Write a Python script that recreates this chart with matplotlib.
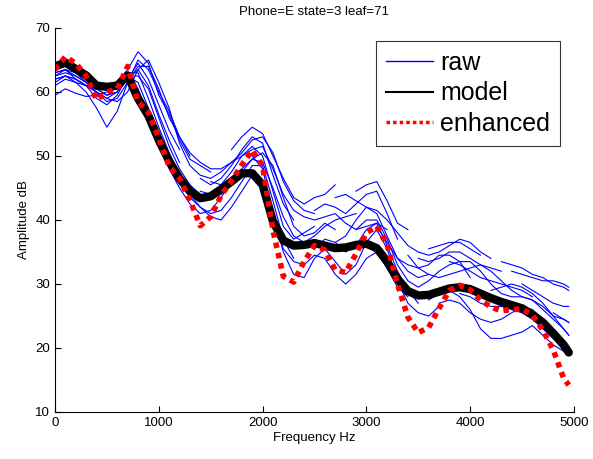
import numpy as np
import matplotlib.pyplot as plt
from matplotlib.lines import Line2D

nan = np.nan

# frequency grid [Hz]
freq = list(range(0, 5000, 100)) + [4950]

model = [64.0, 64.6, 63.6, 62.6, 61.0, 60.8, 61.0, 62.6, 59.0, 56.3,
         52.5, 49.2, 46.5, 44.5, 43.4, 43.7, 44.8, 46.0, 47.3, 47.3,
         45.5, 39.8, 36.8, 36.0, 36.1, 36.4, 36.0, 35.6, 35.7, 36.1,
         36.3, 35.6, 33.5, 30.8, 28.9, 28.2, 28.3, 28.8, 29.3, 29.5,
         29.2, 28.5, 27.8, 27.2, 26.7, 26.2, 25.2, 24.0, 22.3, 20.5, 19.3]

enhanced = [63.5, 65.5, 64.5, 62.5, 58.8, 60.0, 60.5, 64.0, 58.5, 56.8,
            52.8, 48.4, 46.5, 43.1, 39.1, 40.5, 43.8, 46.1, 48.6, 50.9,
            48.5, 38.4, 31.2, 30.3, 33.5, 36.0, 35.3, 32.2, 31.8, 34.7,
            38.0, 39.0, 36.1, 30.0, 24.8, 22.4, 23.2, 26.2, 29.0, 29.8,
            29.1, 27.5, 26.4, 25.8, 26.0, 26.1, 25.1, 22.8, 19.7, 15.3, 14.2]

# raw spectra (nan = gap in the trace)
raw_a = [62.5, 63.5, 63.0, 62.5, 61.5, 61.0, 61.5, 63.5, 66.3, 64.5,
         59.5, 56.5, 52.5, 49.5, 48.5, 47.5, nan, 51.0, 53.0, 54.5,
         53.5, 50.0, 46.5, 43.5, 42.5, 43.5, 44.0, 45.5, nan, 44.5,
         45.5, 46.0, 43.0, 39.5, 38.5, nan, 35.5, 36.0, 36.5, 36.5,
         35.5, 34.5, nan, 33.5, 33.0, 32.5, 31.5, 31.0, 30.0, 29.5, 29.0]
raw_b = [61.5, 62.5, 62.0, 61.0, 60.5, 59.5, 60.0, 62.0, 64.5, 62.0,
         58.0, 54.0, 51.0, nan, 46.5, 45.5, 46.5, 48.5, 51.0, 53.0,
         52.0, 47.0, 42.5, 40.0, nan, 41.5, 42.5, 42.0, 41.0, 42.5,
         44.0, 44.5, 41.0, 37.0, nan, 34.0, 33.5, 34.0, 35.0, 35.0,
         34.0, 33.0, 32.5, 32.0, nan, 30.0, 29.0, 28.0, 27.0, 26.5, 26.5]
raw_c = [59.5, 60.5, 59.8, 59.3, 59.5, 60.0, 60.5, 62.0, 63.5, 61.0,
         56.5, 52.5, 49.0, nan, 44.5, 44.0, 45.5, 47.5, 50.0, 51.5,
         50.0, 44.5, 39.0, 37.0, 38.0, 39.0, nan, 36.5, 37.5, 40.0,
         42.0, 41.0, 37.5, 34.0, 32.0, 31.0, 31.5, nan, 33.5, 33.0,
         32.0, 31.0, 30.5, 30.0, 29.5, 29.0, 28.0, nan, 25.5, 24.5, 24.0]
raw_d = [62.0, 62.5, 61.5, 60.0, 57.5, 54.5, 57.0, 61.5, 65.0, 63.5,
         60.0, 57.0, 53.0, 50.0, nan, 46.0, 45.5, 46.5, 48.0, 49.5,
         49.0, 45.0, 40.5, 37.5, 36.5, 37.5, 39.0, 40.0, 40.5, 41.0,
         nan, 39.0, 36.5, 34.0, 33.0, 32.5, 33.0, 34.5, 34.5, 33.5,
         31.0, nan, 29.0, 29.5, 30.0, 29.5, 28.5, 27.0, 25.0, 23.0, 22.0]
raw_e = [63.0, 63.5, 62.0, 61.0, 59.0, 58.0, 59.5, 62.5, 61.5, 57.5,
         52.0, 48.0, 45.0, 42.5, 41.0, 41.5, 43.5, 46.0, nan, 50.0,
         48.0, 41.0, 35.0, 31.5, 31.0, 34.0, 35.5, 33.5, 31.5, 33.0,
         36.5, 38.5, 35.5, 30.5, 27.0, 25.5, 25.0, 26.5, nan, 28.5,
         28.0, 27.0, 26.5, 26.5, 26.0, 25.5, 24.5, 23.0, 21.5, 20.0, 19.5]
raw_f = [63.5, 64.0, 63.0, 61.5, 60.0, 59.0, 60.0, 63.0, 63.0, 59.0,
         54.5, 50.5, 47.0, 44.0, 42.0, 41.0, 41.5, 43.5, 46.0, 48.5,
         48.5, 43.0, 37.0, 34.0, nan, 35.5, 37.0, 36.5, 35.0, 36.0,
         38.5, 39.5, 36.0, 32.0, 29.0, 27.0, nan, 27.0, 27.5, 27.0,
         25.5, 24.5, 24.0, 24.5, 25.5, 26.5, 26.0, 24.5, 22.5, 21.0, 20.0]
raw_g = [61.0, 62.0, 61.5, 61.0, 60.0, 58.5, 59.0, 61.5, 64.0, 64.0,
         60.5, 56.0, 53.0, 50.5, 49.0, 48.0, 48.0, 49.0, 50.5, 52.5,
         53.0, 50.5, 46.0, 43.0, 41.5, 41.0, nan, 43.5, 44.0, 43.0,
         42.0, 41.5, 40.0, 38.0, 36.0, 35.0, 34.5, 35.0, 36.0, 37.0,
         36.5, 35.0, 34.0, nan, 32.0, 31.5, 31.0, 30.5, 30.5, 30.0, 29.5]
raw_h = [62.5, 63.0, 62.5, 61.5, 60.5, 59.5, 60.0, 62.0, 60.5, 56.5,
         51.5, 48.5, 46.0, 43.5, 42.0, 40.5, 40.0, 42.0, 44.5, 47.0,
         46.0, 40.5, 35.5, 33.5, 33.0, 34.5, 34.0, 31.5, 30.0, 31.5,
         34.0, 35.0, 32.5, 29.5, 28.0, nan, 27.5, 28.5, 29.0, 28.0,
         26.0, 23.0, 21.5, 21.5, 22.0, 22.5, 23.5, 22.0, 20.5, 19.5, 19.0]
raw_i = [63.0, 63.5, 62.5, 61.5, 60.5, 60.5, 61.0, 62.5, 62.5, 60.5,
         56.0, 51.5, 48.0, 45.5, 44.0, 43.5, 44.0, 45.5, 47.5, 49.5,
         50.5, 48.5, 43.5, 39.0, 37.5, 38.0, 39.5, 38.5, nan, 38.5,
         40.0, 40.0, 37.0, 33.0, 30.5, 29.5, 30.5, 32.0, 33.0, 33.5,
         33.5, 32.0, 30.0, 28.5, 28.0, 28.0, 27.5, 26.0, 24.5, 23.0, 22.0]
raw_j = [62.0, 62.5, 62.0, 61.0, 60.0, 59.0, 58.5, 60.0, 63.5, 65.0,
         61.5, 57.5, 52.0, 48.5, 47.0, 46.5, 47.5, 49.0, 50.0, 51.0,
         51.5, 48.0, 44.0, 41.5, 40.5, 40.0, 40.5, 41.0, 39.5, 38.5,
         39.0, 39.5, 38.5, nan, 34.5, 32.5, 31.5, 31.0, 31.5, 32.0,
         32.5, 33.0, 32.0, 30.5, 29.0, 28.0, 27.5, 26.5, 25.0, 24.5, 24.0]

raw_all = [raw_a, raw_b, raw_c, raw_d, raw_e, raw_f, raw_g, raw_h, raw_i, raw_j]

plt.rcParams['font.family'] = ['Liberation Sans', 'DejaVu Sans']

fig = plt.figure(figsize=(5.93, 4.59), dpi=100)
ax = fig.add_axes([0.0927, 0.1024, 0.8752, 0.8366])

for r in raw_all:
    ax.plot(freq, r, color='#0000ff', lw=0.8)
ax.plot(freq, model, color='black', lw=6, solid_capstyle='round')
ax.plot(freq, enhanced, color='#ff0000', lw=4, linestyle=(0, (1, 0.9)),
        dash_capstyle='butt')

ax.set_xlim(0, 5000)
ax.set_ylim(10, 70)
ax.set_xticks(range(0, 5001, 1000))
ax.set_yticks(range(10, 71, 10))
ax.tick_params(direction='in', length=4, labelsize=9.5, width=0.8)
ax.spines['top'].set_visible(False)
ax.spines['right'].set_visible(False)
ax.set_xlabel('Frequency Hz', fontsize=9.5, labelpad=2)
ax.set_ylabel('Amplitude dB', fontsize=9.5, labelpad=4)
ax.set_title('Phone=E state=3 leaf=71', fontsize=9.5, pad=9)

handles = [Line2D([], [], color='#0000ff', lw=1),
           Line2D([], [], color='black', lw=1.5),
           Line2D([], [], color='#ff0000', lw=2.5, linestyle=(0, (1, 0.9)))]
leg = ax.legend(handles, ['raw', 'model', 'enhanced'], loc='upper right',
                bbox_to_anchor=(0.973, 0.966), fontsize=18, frameon=True,
                fancybox=False, edgecolor='black', handlelength=1.85,
                borderpad=0.4, labelspacing=0.25, handletextpad=0.3,
                borderaxespad=0)
leg.get_frame().set_linewidth(0.8)

fig.savefig('out.png', dpi=100)
